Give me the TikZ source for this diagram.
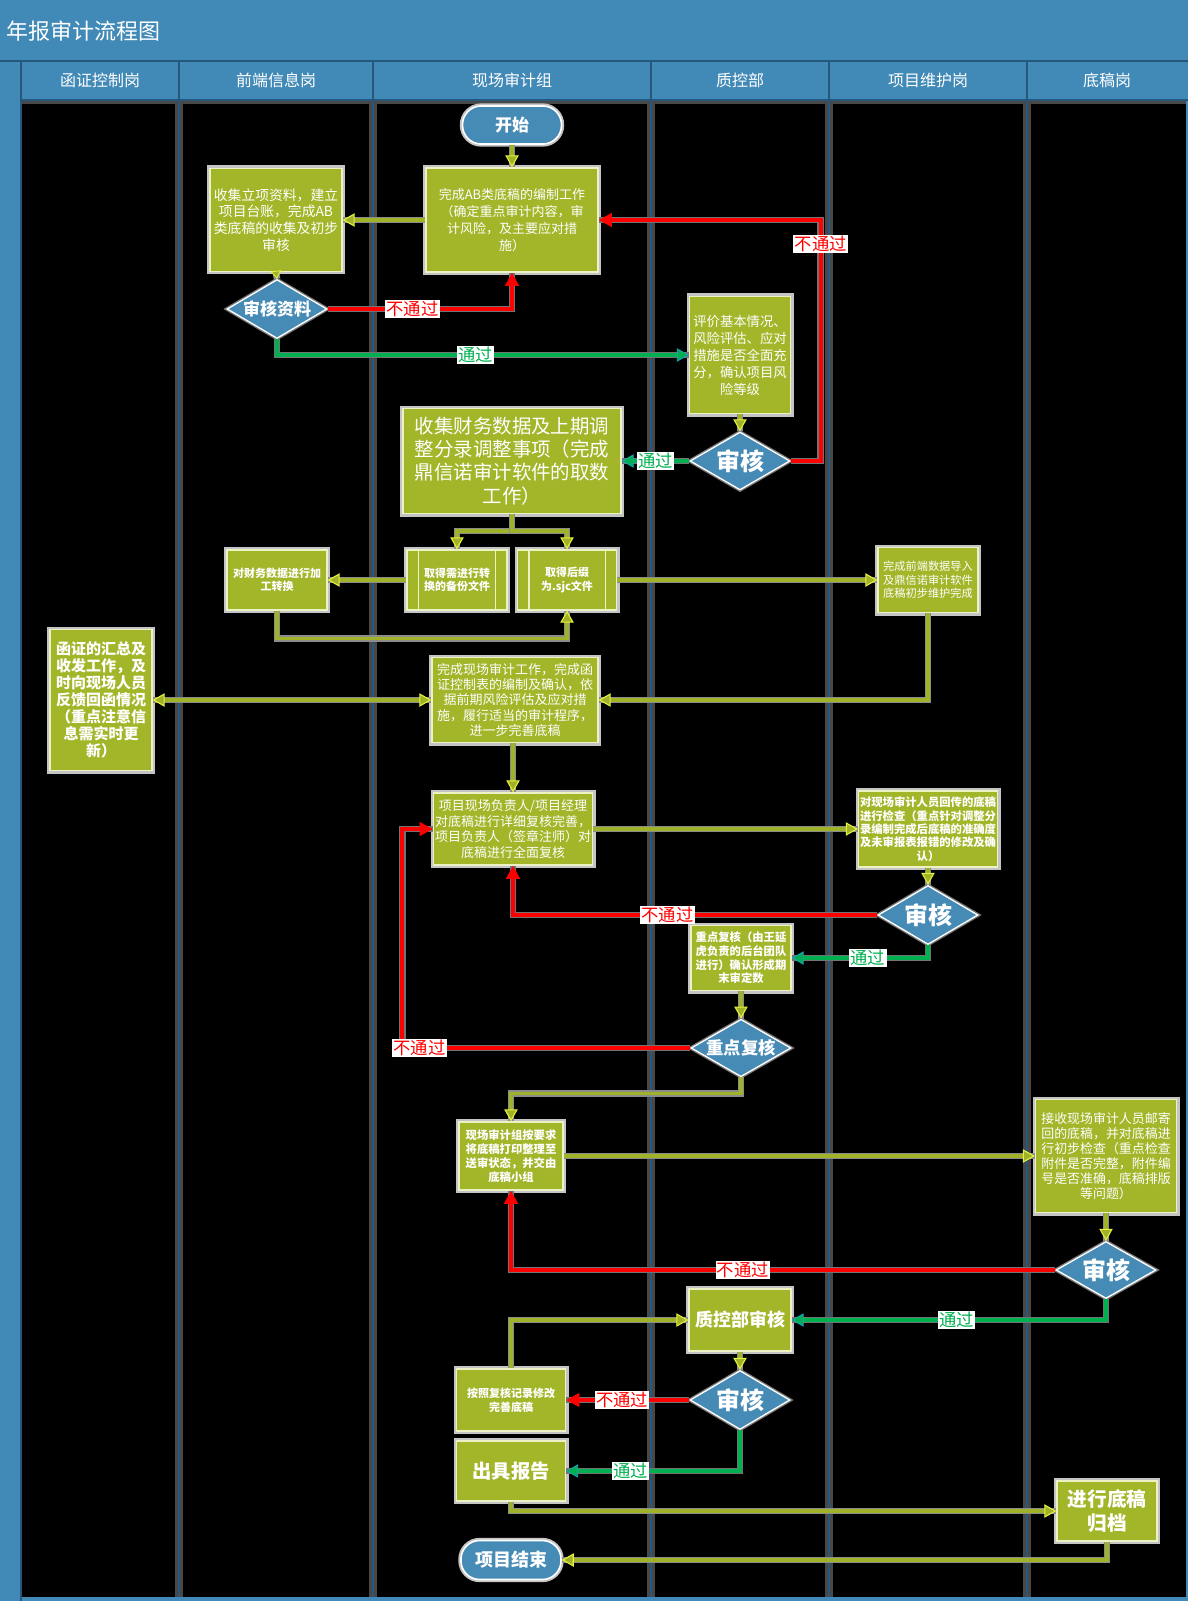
\documentclass[tikz,border=0pt]{standalone}
\usepackage{fontspec}
\setmainfont{Noto Sans CJK SC}
\usetikzlibrary{shapes.geometric,arrows.meta}
\definecolor{frameblue}{RGB}{65,137,183}
\definecolor{framedark}{RGB}{38,88,126}
\definecolor{boxgreen}{RGB}{163,181,40}
\definecolor{boxedge}{RGB}{236,242,196}
\definecolor{glow}{RGB}{196,196,196}
\definecolor{diamblue}{RGB}{70,138,182}
\definecolor{lineolive}{RGB}{160,178,40}
\definecolor{lineshade}{RGB}{140,140,140}
\definecolor{tipyellow}{RGB}{232,242,60}
\definecolor{nored}{RGB}{255,0,0}
\definecolor{okgreen}{RGB}{0,176,80}
\definecolor{lanegap}{RGB}{72,72,72}

\begin{document}
\begin{tikzpicture}[x=0.75pt,y=0.75pt,yscale=-1,xscale=1,
  proc/.style={rectangle, fill=boxgreen, draw=boxedge, line width=0.9pt, preaction={draw=glow, line width=4.5pt}, text=white, align=center, inner sep=0pt},
  decide/.style={diamond, aspect=1.7, fill=diamblue, draw=white, line width=1pt, preaction={draw=glow!60!black, line width=3pt}, text=white, inner sep=0pt},
  term/.style={rectangle, rounded corners=14pt, fill=diamblue, draw=white, line width=1.2pt, preaction={draw=glow, line width=4pt}, text=white, inner sep=0pt},
  headtext/.style={text=white, font=\fontsize{12}{14}\selectfont},
  flow/.style={draw=lineolive, line width=2.6pt, preaction={draw=lineshade, line width=5pt, -}, -{Triangle[length=9pt,width=10pt,fill=lineolive,color=tipyellow,line width=0.8pt]}},
  flowboth/.style={flow, {Triangle[length=9pt,width=10pt,fill=lineolive,color=tipyellow,line width=0.8pt]}-{Triangle[length=9pt,width=10pt,fill=lineolive,color=tipyellow,line width=0.8pt]}},
  noflow/.style={draw=nored, line width=3pt, preaction={draw=black!55, line width=5pt, -}, -{Triangle[length=10pt,width=10pt]}},
  okflow/.style={draw=okgreen, line width=3pt, preaction={draw=black!55, line width=5pt, -}, -{Triangle[length=9pt,width=10pt,fill=okgreen,color=cyan!60!okgreen,line width=0.6pt]}},
  nolabel/.style={fill=white, text=nored, inner sep=1pt, font=\fontsize{13}{15}\selectfont},
  oklabel/.style={fill=white, text=okgreen, inner sep=1pt, font=\fontsize{13}{15}\selectfont}]
\useasboundingbox (0,0) rectangle (1188,1601);

%Frame and lanes
\fill[frameblue] (0,0) rectangle (1188,1601);
\fill[black] (22,101) rectangle (1186,1597);
\draw[lanegap, line width=3pt] (22,102) -- (1186,102);
\foreach \lx in {179,373,651,829,1027} {
  \draw[lanegap, line width=6pt] (\lx,101) -- (\lx,1597);
  \draw[framedark, line width=1pt] (\lx,61) -- (\lx,1597);
}
\draw[framedark, line width=1pt] (0,61) -- (1188,61);
\draw[framedark, line width=1pt] (21,61) -- (21,1601);
\draw[framedark, line width=1pt] (21,100) -- (1188,100);

% Text Node
\node[anchor=west, text=white, font=\fontsize{16.5}{20}\selectfont] (title) at (2,31) {年报审计流程图};
\node[headtext] (lane1) at (100,80) {函证控制岗};
\node[headtext] (lane2) at (276,80) {前端信息岗};
\node[headtext] (lane3) at (512,80) {现场审计组};
\node[headtext] (lane4) at (740,80) {质控部};
\node[headtext] (lane5) at (928,80) {项目维护岗};
\node[headtext] (lane6) at (1107,80) {底稿岗};

%Flowchart: Terminator
\node[term, minimum width=74.25pt, minimum height=28.5pt, font=\bfseries\fontsize{12.75}{15}\selectfont] (start) at (512,125) {开始};
%Flowchart: Process
\node[proc, minimum width=129pt, minimum height=78pt, font=\fontsize{9.75}{12.75}\selectfont] (A) at (512,220) {完成AB类底稿的编制工作\\（确定重点审计内容，审\\计风险，及主要应对措\\施）};
\node[proc, minimum width=99pt, minimum height=77.25pt, font=\fontsize{10.35}{12.5}\selectfont] (B) at (276,220) {收集立项资料，建立\\项目台账，完成AB\\类底稿的收集及初步\\审核};
%Flowchart: Decision
\node[decide, minimum width=75pt, minimum height=44.25pt, font=\bfseries\fontsize{12.75}{15}\selectfont] (chk1) at (277,309) {审核资料};
%Flowchart: Process
\node[proc, minimum width=75.75pt, minimum height=87.75pt, font=\fontsize{10}{12.75}\selectfont] (C) at (740,355) {评价基本情况、\\风险评估、应对\\措施是否全面充\\分，确认项目风\\险等级};
%Flowchart: Decision
\node[decide, minimum width=75pt, minimum height=43.5pt, font=\bfseries\fontsize{18}{20}\selectfont] (chk2) at (740,461) {审核};
%Flowchart: Process
\node[proc, minimum width=163.5pt, minimum height=78.75pt, font=\fontsize{14.6}{17.5}\selectfont] (D) at (512,461) {收集财务数据及上期调\\整分录调整事项（完成\\鼎信诺审计软件的取数\\工作）};
\node[proc, minimum width=75pt, minimum height=45pt, font=\bfseries\fontsize{8.25}{10}\selectfont] (E1) at (457,580) {取得需进行转\\换的备份文件};
\node[proc, minimum width=74.25pt, minimum height=45pt, font=\bfseries\fontsize{8.25}{10}\selectfont] (E2) at (567,580) {取得后缀\\为.sjc文件};
\node[proc, minimum width=75pt, minimum height=45pt, font=\bfseries\fontsize{8.25}{10}\selectfont] (F) at (277,580) {对财务数据进行加\\工转换};
\node[proc, minimum width=75pt, minimum height=48.75pt, font=\fontsize{8.4}{10}\selectfont] (G) at (928,580) {完成前端数据导入\\及鼎信诺审计软件\\底稿初步维护完成};
\node[proc, minimum width=124.5pt, minimum height=63.75pt, font=\fontsize{9.75}{11.4}\selectfont] (H) at (515,700) {完成现场审计工作，完成函\\证控制表的编制及确认，依\\据前期风险评估及应对措\\施，履行适当的审计程序，\\进一步完善底稿};
\node[proc, minimum width=76.5pt, minimum height=105.75pt, font=\bfseries\fontsize{11.25}{12.75}\selectfont] (I) at (101,700) {函证的汇总及\\收发工作，及\\时向现场人员\\反馈回函情况\\（重点注意信\\息需实时更\\新）};
\node[proc, minimum width=119.25pt, minimum height=54pt, font=\fontsize{9.75}{11.7}\selectfont] (J) at (513,829) {项目现场负责人/项目经理\\对底稿进行详细复核完善，\\项目负责人（签章注师）对\\底稿进行全面复核};
\node[proc, minimum width=104.25pt, minimum height=57pt, font=\bfseries\fontsize{8.5}{10}\selectfont] (K) at (928,829) {对现场审计人员回传的底稿\\进行检查（重点针对调整分\\录编制完成后底稿的准确度\\及未审报表报错的修改及确\\认）};
%Flowchart: Decision
\node[decide, minimum width=75pt, minimum height=44.25pt, font=\bfseries\fontsize{18}{20}\selectfont] (chk3) at (928,915) {审核};
%Flowchart: Process
\node[proc, minimum width=75pt, minimum height=48.75pt, font=\bfseries\fontsize{8.5}{10.3}\selectfont] (L) at (741,958) {重点复核（由王延\\虎负责的后台团队\\进行）确认形成期\\末审定数};
%Flowchart: Decision
\node[decide, minimum width=75pt, minimum height=42pt, font=\bfseries\fontsize{13}{15}\selectfont] (chk4) at (741,1048) {重点复核};
%Flowchart: Process
\node[proc, minimum width=78pt, minimum height=51pt, font=\bfseries\fontsize{8.5}{10.4}\selectfont] (M) at (511,1156) {现场审计组按要求\\将底稿打印整理至\\送审状态，并交由\\底稿小组};
\node[proc, minimum width=105.75pt, minimum height=84.75pt, font=\fontsize{9.7}{11.35}\selectfont] (N) at (1106,1156) {接收现场审计人员邮寄\\回的底稿，并对底稿进\\行初步检查（重点检查\\附件是否完整，附件编\\号是否准确，底稿排版\\等问题）};
%Flowchart: Decision
\node[decide, minimum width=75pt, minimum height=42.75pt, font=\bfseries\fontsize{18}{20}\selectfont] (chk5) at (1106,1270) {审核};
%Flowchart: Process
\node[proc, minimum width=76.5pt, minimum height=46.5pt, font=\bfseries\fontsize{13.5}{15}\selectfont] (O) at (740,1320) {质控部审核};
%Flowchart: Decision
\node[decide, minimum width=75pt, minimum height=44.25pt, font=\bfseries\fontsize{18}{20}\selectfont] (chk6) at (740,1400) {审核};
%Flowchart: Process
\node[proc, minimum width=81.75pt, minimum height=46.5pt, font=\bfseries\fontsize{8.25}{10.5}\selectfont] (P) at (511,1400) {按照复核记录修改\\完善底稿};
\node[proc, minimum width=81.75pt, minimum height=45pt, font=\bfseries\fontsize{14.5}{17}\selectfont] (Q) at (511,1471) {出具报告};
\node[proc, minimum width=75pt, minimum height=45pt, font=\bfseries\fontsize{14.7}{18.25}\selectfont] (R) at (1107,1511) {进行底稿\\归档};
%Flowchart: Terminator
\node[term, minimum width=75pt, minimum height=29.25pt, font=\bfseries\fontsize{13.5}{15}\selectfont] (end) at (511,1560) {项目结束};

%Predefined process bars
\draw[boxedge, line width=0.9pt] ([xshift=9pt]E1.north west) -- ([xshift=9pt]E1.south west);
\draw[boxedge, line width=0.9pt] ([xshift=-9pt]E1.north east) -- ([xshift=-9pt]E1.south east);
\draw[boxedge, line width=0.9pt] ([xshift=9pt]E2.north west) -- ([xshift=9pt]E2.south west);
\draw[boxedge, line width=0.9pt] ([xshift=-9pt]E2.north east) -- ([xshift=-9pt]E2.south east);

%Straight Lines
\draw[flow] (start.south) -- (A.north);
\draw[flow] (A.west) -- (B.east);
\draw[flow, -{Triangle[length=6pt,width=8pt,fill=lineolive,color=tipyellow,line width=0.6pt]}] (B.south) -- (chk1.north);
\draw[noflow] (chk1.east) -| (A.south) node[nolabel, pos=0.23] (no1) {不通过};
\draw[okflow] (chk1.south) |- (C.west) node[oklabel, pos=0.741] (ok1) {通过};
\draw[flow] (C.south) -- (chk2.north);
\draw[noflow] (chk2.east) -- ++(30,0) |- (A.east) node[nolabel, pos=0.45] (no2) {不通过};
\draw[okflow] (chk2.west) -- (D.east) node[oklabel, midway] (ok2) {通过};
\draw[flow] (D.south) -- ++(0,17) -| (E1.north);
\draw[flow] (D.south) -- ++(0,17) -| (E2.north);
\draw[flow] (E1.west) -- (F.east);
\draw[flow] (F.south) -- ++(0,28) -| (E2.south);
\draw[flow] (E2.east) -- (G.west);
\draw[flow] (G.south) |- (H.east);
\draw[flowboth] (I.east) -- (H.west);
\draw[flow] (H.south -| J.north) -- (J.north);
\draw[flow] (J.east) -- (K.west);
\draw[flow] (K.south) -- (chk3.north);
\draw[noflow] (chk3.west) -| (J.south) node[nolabel, pos=0.288] (no3) {不通过};
\draw[okflow] (chk3.south) |- (L.east) node[oklabel, pos=0.72] (ok3) {通过};
\draw[flow] (L.south) -- (chk4.north);
\draw[noflow] (chk4.west) -- ++(-288,0) node[nolabel, pos=0.94] (no4) {不通过} |- (J.west);
\draw[flow] (chk4.south) -- ++(0,16) -| (M.north);
\draw[flow] (M.east) -- (N.west);
\draw[flow] (N.south) -- (chk5.north);
\draw[noflow] (chk5.west) -| (M.south) node[nolabel, pos=0.287] (no5) {不通过};
\draw[okflow] (chk5.south) |- (O.east) node[oklabel, pos=0.738] (ok5) {通过};
\draw[flow] (P.north) |- (O.west);
\draw[flow] (O.south) -- (chk6.north);
\draw[noflow] (chk6.west) -- (P.east) node[nolabel, pos=0.546] (no6) {不通过};
\draw[okflow] (chk6.south) |- (Q.east) node[oklabel, pos=0.815] (ok6) {通过};
\draw[flow] (Q.south) |- (R.west);
\draw[flow] (R.south) |- (end.east);

\end{tikzpicture}
\end{document}
